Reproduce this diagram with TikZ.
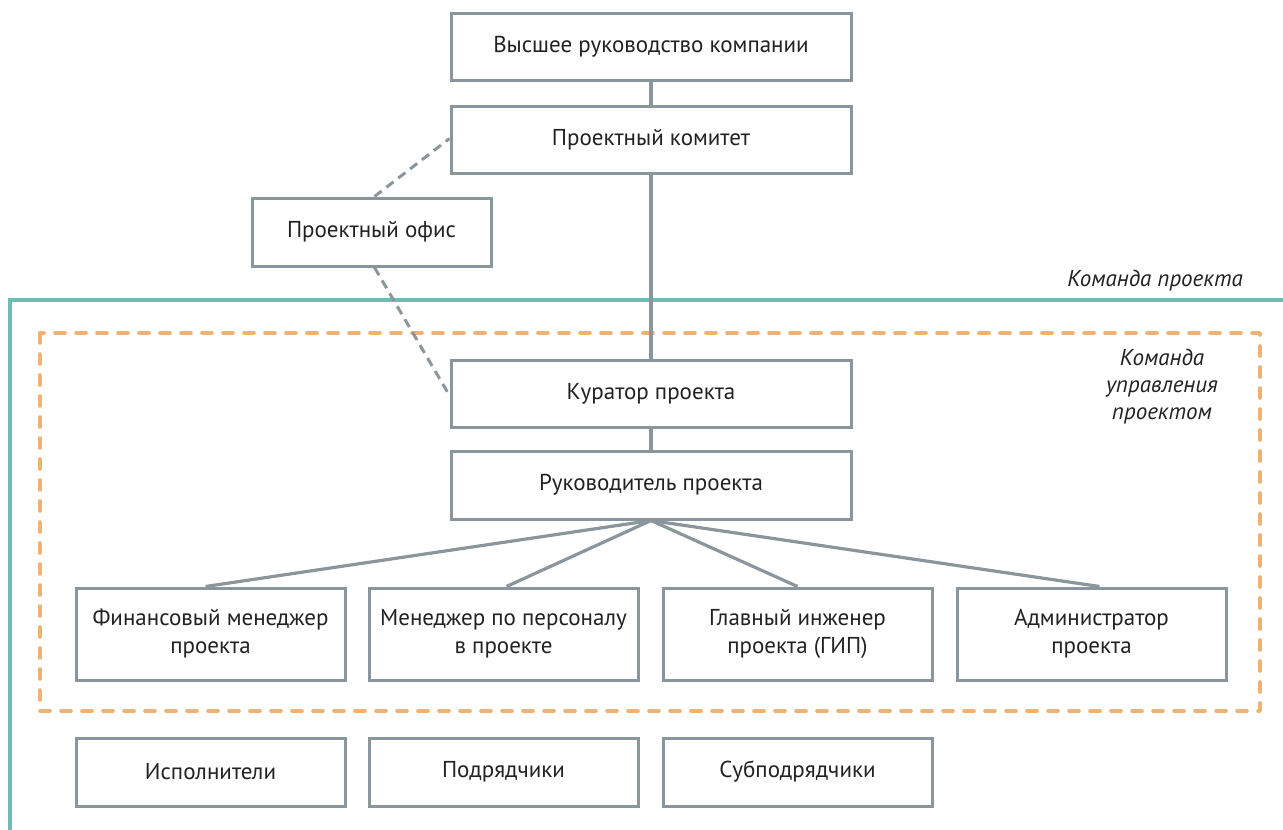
\documentclass[tikz,border=0pt]{standalone}
\usepackage{fontspec}
\setmainfont{PT Sans}
\usetikzlibrary{calc}
\definecolor{boxgray}{HTML}{8A959C}
\definecolor{tealc}{HTML}{6CBDB3}
\definecolor{orangec}{HTML}{EFB273}
\definecolor{txt}{HTML}{222222}
\tikzset{
  orgbox/.style={draw=boxgray, line width=3pt, fill=white, align=center, text=txt,
    font=\fontsize{23}{28}\selectfont, minimum width=400pt, minimum height=67pt, inner sep=0pt},
  smallbox/.style={orgbox, minimum width=269pt, minimum height=92pt},
  lowbox/.style={orgbox, minimum width=269pt, minimum height=68pt},
  link/.style={draw=boxgray, line width=3.2pt},
  dlink/.style={draw=boxgray, line width=3pt, dash pattern=on 9pt off 6pt},
  grouplabel/.style={align=center, text=txt, font=\fontsize{23}{27}\selectfont\itshape},
}
\begin{document}
\begin{tikzpicture}[x=1pt,y=-1pt]
\useasboundingbox (0,0) rectangle (1283,830);
% frames
\draw[tealc, line width=4pt] (1283,300) -- (10,300) -- (10,830);
\draw[orangec, line width=3.6pt, dash pattern=on 10pt off 11pt, line cap=round, line join=round] (40,333) rectangle (1260,711);
\node[orgbox] (top) at (651,46.5) {Высшее руководство компании};
\node[orgbox] (kom) at (651,139.5) {Проектный комитет};
\node[orgbox, minimum width=239pt, minimum height=68pt] (off) at (371.5,232) {Проектный офис};
\node[orgbox] (kur) at (651,393.5) {Куратор проекта};
\node[orgbox, minimum height=68pt] (ruk) at (651,485) {Руководитель проекта};
\node[smallbox] (fin) at (210.5,634) {Финансовый менеджер\\проекта};
\node[smallbox] (men) at (503.5,634) {Менеджер по персоналу\\в проекте};
\node[smallbox] (gip) at (797.5,634) {Главный инженер\\проекта (ГИП)};
\node[smallbox] (adm) at (1091.5,634) {Администратор\\проекта};
\node[lowbox] (isp) at (210.5,772) {Исполнители};
\node[lowbox] (pod) at (503.5,772) {Подрядчики};
\node[lowbox] (sub) at (797.5,772) {Субподрядчики};
% links
\draw[link] (top.south) -- (kom.north);
\draw[link] (kom.south) -- (kur.north);
\draw[link] (kur.south) -- (ruk.north);
\draw[link] (ruk.south) -- ($(fin.north)+(-5,0)$);
\draw[link] (ruk.south) -- ($(men.north)+(3,0)$);
\draw[link] (ruk.south) -- (gip.north);
\draw[link] (ruk.south) -- ($(adm.north)+(8,0)$);
\draw[dlink] ($(off.north)+(3,0)$) -- ($(kom.west)+(0,-1)$);
\draw[dlink] ($(off.south)+(3,0)$) -- ($(kur.west)+(0,2)$);
% labels
\node[grouplabel] (lbl1) at (1155,281) {Команда проекта};
\node[grouplabel] (lbl2) at (1162,387) {Команда\\управления\\проектом};
\end{tikzpicture}
\end{document}
